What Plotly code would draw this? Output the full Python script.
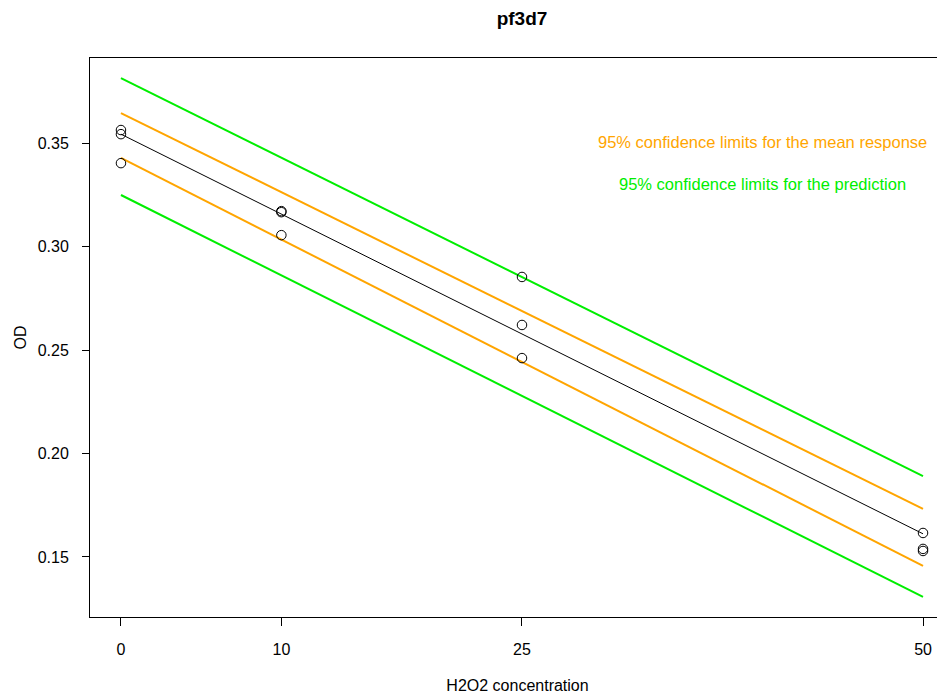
import plotly.graph_objects as go

# observed data
conc = [0, 0, 0, 10, 10, 10, 25, 25, 25, 50, 50, 50]
od = [0.3563, 0.3543, 0.3403, 0.3171, 0.3166, 0.3055, 0.2853, 0.2621, 0.2461, 0.1616, 0.1539, 0.1529]

# line endpoints
line_x = [0, 50]
fit_y = [0.3543, 0.1612]
mean_upper = [0.3645, 0.1732]
mean_lower = [0.3428, 0.1457]
pred_upper = [0.3814, 0.1891]
pred_lower = [0.3249, 0.1307]

x_ticks = [0, 10, 25, 50]
y_ticks = [0.15, 0.20, 0.25, 0.30, 0.35]

FONT = "Liberation Sans, Arial, Helvetica, sans-serif"
ORANGE = "#FFA500"
GREEN = "#00EE00"

fig = go.Figure()
for ys, col, w in [(pred_upper, GREEN, 2), (pred_lower, GREEN, 2),
                   (mean_upper, ORANGE, 2), (mean_lower, ORANGE, 2),
                   (fit_y, "black", 1)]:
    fig.add_trace(go.Scatter(x=line_x, y=ys, mode="lines",
                             line=dict(color=col, width=w), showlegend=False,
                             hoverinfo="skip"))
fig.add_trace(go.Scatter(x=conc, y=od, mode="markers",
                         marker=dict(symbol="circle-open", size=9.5,
                                     color="black", line=dict(width=1)),
                         showlegend=False))

fig.add_annotation(xref="paper", yref="paper", x=(762-90)/855, y=(617-142)/559,
                   xanchor="center", yanchor="middle",
                   text="95% confidence limits for the mean response",
                   showarrow=False, font=dict(color=ORANGE, size=16.5, family=FONT))
fig.add_annotation(xref="paper", yref="paper", x=(762-90)/855, y=(617-184)/559,
                   xanchor="center", yanchor="middle",
                   text="95% confidence limits for the prediction",
                   showarrow=False, font=dict(color=GREEN, size=16.5, family=FONT))

fig.update_layout(
    width=937, height=692,
    margin=dict(l=82, r=0, t=50, b=83),
    paper_bgcolor="white", plot_bgcolor="white",
    font=dict(family=FONT, size=16, color="black"),
    title=dict(text="<b>pf3d7</b>", x=514/937, xanchor="center",
               y=1 - 10/692, yanchor="middle", font=dict(size=19, family=FONT)),
    xaxis=dict(range=[-1.93, 51.37], tickvals=x_ticks, ticktext=[str(v) for v in x_ticks],
               showgrid=False, zeroline=False, showline=True, mirror=True,
               linecolor="black", linewidth=1, ticks="outside", ticklen=8,
               tickcolor="black", ticklabelstandoff=10,
               title=dict(text="H2O2 concentration", standoff=22,
                          font=dict(size=16))),
    yaxis=dict(range=[0.121, 0.3911], tickvals=y_ticks,
               ticktext=["%.2f" % v for v in y_ticks],
               showgrid=False, zeroline=False, showline=True, mirror=False,
               linecolor="black", linewidth=1, ticks="outside", ticklen=7,
               tickcolor="black", ticklabelstandoff=10,
               title=dict(text="OD", standoff=7, font=dict(size=16))),
)
fig.write_html("out.html")
